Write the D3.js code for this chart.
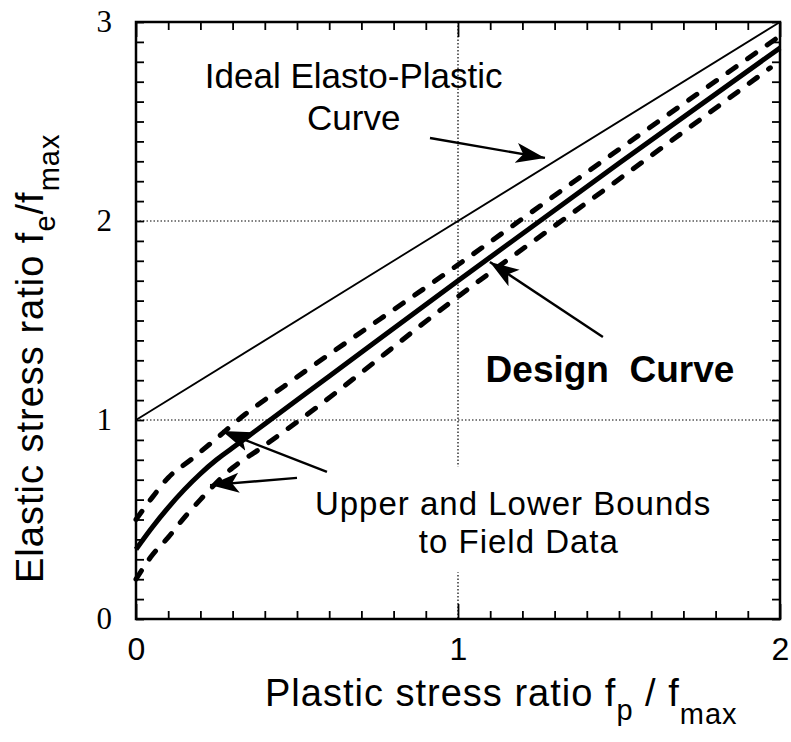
<!DOCTYPE html>
<html>
<head>
<meta charset="utf-8">
<script src="https://cdn.jsdelivr.net/npm/d3@7"></script>
<style>
  body { margin: 0; background: #fff; }
  svg { display: block; }
</style>
</head>
<body>
<div id="chart-area"></div>
<script>
// values (x = fp/fmax, y = fe/fmax)
var idealCurve = [[0, 1], [2, 3]];
var designCurve = [[0, 0.35], [0.05, 0.46], [0.1, 0.56], [0.15, 0.65], [0.2, 0.73], [0.25, 0.8],
    [0.3, 0.86], [0.4, 0.98], [0.6, 1.22], [1.0, 1.70], [1.5, 2.29], [2.0, 2.87]];
var upperBound = [[0, 0.5], [0.05, 0.61], [0.1, 0.71], [0.17, 0.8], [0.23, 0.88], [0.34, 1.03],
    [0.46, 1.17], [1.0, 1.78], [1.5, 2.36], [2.0, 2.93]];
var lowerBound = [[0, 0.2], [0.05, 0.32], [0.1, 0.41], [0.15, 0.51], [0.2, 0.6], [0.3, 0.76],
    [0.38, 0.85], [0.5, 0.99], [1.0, 1.62], [1.5, 2.21], [1.97, 2.77]];

var xTicks = [0, 1, 2];
var yTicks = [0, 1, 2, 3];
var xGrid = [1];
var yGrid = [1, 2];

// annotation arrows: [fromX, fromY, tipX, tipY]
var arrows = [
    [0.913, 2.417, 1.27, 2.317],
    [1.45, 1.417, 1.099, 1.794],
    [0.593, 0.739, 0.267, 0.945],
    [0.5, 0.709, 0.23, 0.673]
];

var margin = {left: 136, top: 22, right: 11, bottom: 123};
var width = 791 - margin.left - margin.right;
var height = 742 - margin.top - margin.bottom;

var svg = d3.select("#chart-area")
    .append("svg")
    .attr("width", 791)
    .attr("height", 742);

var g = svg.append("g")
    .attr("transform", "translate(" + margin.left + "," + margin.top + ")");

var x = d3.scaleLinear().domain([0, 2]).range([0, width]);
var y = d3.scaleLinear().domain([0, 3]).range([height, 0]);

svg.append("defs").append("marker")
    .attr("id", "head")
    .attr("markerUnits", "userSpaceOnUse")
    .attr("viewBox", "0 -11 30 22")
    .attr("refX", 29)
    .attr("refY", 0)
    .attr("markerWidth", 30)
    .attr("markerHeight", 22)
    .attr("orient", "auto")
    .append("path")
    .attr("d", "M0,-10L29,0L0,10L7,0Z")
    .attr("fill", "#000");

// dotted grid
g.selectAll(".xgrid").data(xGrid).enter().append("line")
    .attr("x1", function(d) { return x(d); })
    .attr("x2", function(d) { return x(d); })
    .attr("y1", 0).attr("y2", height)
    .attr("stroke", "#000").attr("stroke-width", 1.2)
    .attr("stroke-dasharray", "1.5,2");

g.selectAll(".ygrid").data(yGrid).enter().append("line")
    .attr("x1", 0).attr("x2", width)
    .attr("y1", function(d) { return y(d); })
    .attr("y2", function(d) { return y(d); })
    .attr("stroke", "#000").attr("stroke-width", 1.2)
    .attr("stroke-dasharray", "1.5,2");

// minor ticks on all four sides, pointing inward
var minor = d3.range(0, 21).map(function(i) { return i / 10; });
var minorY = d3.range(0, 31).map(function(i) { return i / 10; });

function tickLen(v) { return Math.abs(v - Math.round(v)) < 1e-6 ? 15 : 8; }

g.append("g").attr("transform", "translate(0," + height + ")")
    .call(d3.axisBottom(x).tickValues(minor).tickSize(0).tickFormat(""))
    .call(function(a) { a.select(".domain").remove(); })
    .selectAll(".tick line").attr("y2", function(d) { return -tickLen(d); });
g.append("g")
    .call(d3.axisTop(x).tickValues(minor).tickSize(0).tickFormat(""))
    .call(function(a) { a.select(".domain").remove(); })
    .selectAll(".tick line").attr("y2", function(d) { return tickLen(d); });
g.append("g")
    .call(d3.axisLeft(y).tickValues(minorY).tickSize(-8).tickFormat(""))
    .call(function(a) { a.select(".domain").remove(); });
g.append("g").attr("transform", "translate(" + width + ",0)")
    .call(d3.axisRight(y).tickValues(minorY).tickSize(-8).tickFormat(""))
    .call(function(a) { a.select(".domain").remove(); });
g.selectAll(".tick line").attr("stroke-width", 1.8);

// white box behind the lower label
var lowerLabelBox = g.append("rect").attr("fill", "#fff");

var line = d3.line()
    .x(function(d) { return x(d[0]); })
    .y(function(d) { return y(d[1]); })
    .curve(d3.curveMonotoneX);

g.append("path").datum(idealCurve).attr("d", line)
    .attr("fill", "none").attr("stroke", "#000").attr("stroke-width", 1.8);
g.append("path").datum(designCurve).attr("d", line)
    .attr("fill", "none").attr("stroke", "#000").attr("stroke-width", 5);
[upperBound, lowerBound].forEach(function(b) {
    g.append("path").datum(b).attr("d", line)
        .attr("fill", "none").attr("stroke", "#000").attr("stroke-width", 5)
        .attr("stroke-linecap", "round")
        .attr("stroke-dasharray", "10,14");
});

// frame
g.append("rect").attr("width", width).attr("height", height)
    .attr("fill", "none").attr("stroke", "#000").attr("stroke-width", 2.5);

// arrows
g.selectAll(".arrow").data(arrows).enter().append("line")
    .attr("x1", function(d) { return x(d[0]); })
    .attr("y1", function(d) { return y(d[1]); })
    .attr("x2", function(d) { return x(d[2]); })
    .attr("y2", function(d) { return y(d[3]); })
    .attr("stroke", "#000").attr("stroke-width", 2.4)
    .attr("marker-end", "url(#head)");

// tick labels
var xLab = g.append("g").attr("transform", "translate(0," + height + ")")
    .call(d3.axisBottom(x).tickValues(xTicks).tickSize(0).tickPadding(18).tickFormat(d3.format("d")));
xLab.select(".domain").remove();
xLab.attr("font-family", "Liberation Sans, Arial, sans-serif").attr("font-size", 32);

var yLab = g.append("g")
    .call(d3.axisLeft(y).tickValues(yTicks).tickSize(0).tickPadding(24).tickFormat(d3.format("d")));
yLab.select(".domain").remove();
yLab.attr("font-family", "Liberation Serif, Times New Roman, serif").attr("font-size", 31);

// annotation texts
var sans = "Liberation Sans, Arial, Helvetica, sans-serif";
var ideal = g.append("text").attr("font-family", sans).attr("font-size", 35)
    .attr("text-anchor", "middle");
ideal.append("tspan").attr("x", x(0.676)).attr("y", y(2.669)).text("Ideal Elasto-Plastic");
ideal.append("tspan").attr("x", x(0.676)).attr("y", y(2.458)).text("Curve");

g.append("text").attr("font-family", sans).attr("font-size", 37).attr("font-weight", "bold")
    .attr("text-anchor", "middle")
    .attr("x", x(1.472)).attr("y", y(1.191))
    .attr("xml:space", "preserve")
    .text("Design  Curve");

var lower = g.append("g").attr("font-family", sans).attr("font-size", 33)
    .attr("letter-spacing", 1).attr("text-anchor", "middle");
lower.append("text").attr("x", x(1.171)).attr("y", y(0.525)).text("Upper and Lower Bounds");
lower.append("text").attr("x", x(1.189)).attr("y", y(0.33)).text("to Field Data");
var bb = lower.node().getBBox();
lowerLabelBox.attr("x", bb.x).attr("y", bb.y - 18)
    .attr("width", bb.width).attr("height", bb.height + 30);

// axis titles
var xt = svg.append("text").attr("font-family", sans).attr("font-size", 38)
    .attr("letter-spacing", 1)
    .attr("x", 265).attr("y", 706);
xt.append("tspan").text("Plastic stress ratio f");
xt.append("tspan").attr("dy", 14).attr("font-size", 29).text("p");
xt.append("tspan").attr("dy", -14).text(" / f");
xt.append("tspan").attr("dy", 18).attr("font-size", 29).text("max");

var yt = svg.append("text").attr("font-family", sans).attr("font-size", 38)
    .attr("letter-spacing", 1)
    .attr("transform", "translate(43,583) rotate(-90)");
yt.append("tspan").text("Elastic stress ratio f");
yt.append("tspan").attr("dy", 12).attr("font-size", 29).text("e");
yt.append("tspan").attr("dy", -12).text("/f");
yt.append("tspan").attr("dy", 16).attr("font-size", 29).text("max");
</script>
</body>
</html>
